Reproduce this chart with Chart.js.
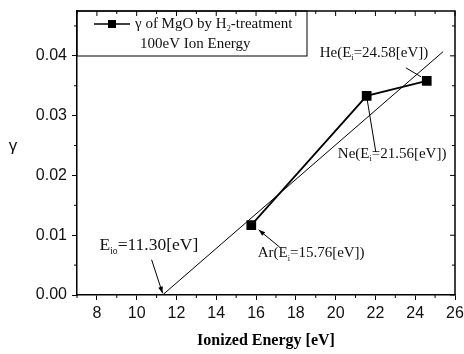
<!DOCTYPE html>
<html>
<head>
<meta charset="utf-8">
<script src="https://cdn.jsdelivr.net/npm/chart.js@4/dist/chart.umd.min.js"></script>
<style>
  html, body { margin: 0; padding: 0; background: #fff; }
</style>
</head>
<body>
<canvas id="chart" width="464" height="354"></canvas>
<script>
// measured gamma for each ion (Ar, Ne, He)
const ionEnergy = [15.76, 21.56, 24.58];
const gammaValues = [0.0117, 0.0333, 0.0358];
// straight fit, crosses zero at E_io = 11.30 eV
const fitEnergy = [11.30, 25.4];
const fitGamma = [0, 0.0407];
const xTicks = [8, 10, 12, 14, 16, 18, 20, 22, 24, 26];
const yTicks = [0, 0.01, 0.02, 0.03, 0.04];

const SERIF = '"Liberation Serif", "Times New Roman", serif';
const SANS = '"Liberation Sans", Arial, sans-serif';

// text pieces: [string, isSubscript]
const notes = [
  { parts: [['He(E', 0], ['i', 1], ['=24.58[eV])', 0]], x: 19.2, y: 0.0405, size: 15,
    from: [23.53, 0.0380], to: [24.29, 0.0365], head: false },
  { parts: [['Ne(E', 0], ['i', 1], ['=21.56[eV])', 0]], x: 20.11, y: 0.0236, size: 15,
    from: [22.02, 0.0239], to: [21.57, 0.0330], head: false },
  { parts: [['Ar(E', 0], ['i', 1], ['=15.76[eV])', 0]], x: 16.08, y: 0.0070, size: 15,
    from: [17.19, 0.0080], to: [16.13, 0.0109], head: true },
  { parts: [['E', 0], ['io', 1], ['=11.30[eV]', 0]], x: 8.13, y: 0.0083, size: 17.5,
    from: [10.75, 0.0059], to: [11.30, 0.0003], head: true }
];

function drawParts(ctx, parts, x, y, size) {
  let cx = x;
  ctx.textBaseline = 'middle';
  ctx.textAlign = 'left';
  parts.forEach(([t, sub]) => {
    ctx.font = (sub ? size * 0.55 : size) + 'px ' + SERIF;
    ctx.fillText(t, cx, sub ? y + size * 0.35 : y);
    cx += ctx.measureText(t).width;
  });
}

function arrow(ctx, x1, y1, x2, y2, head) {
  ctx.beginPath();
  ctx.moveTo(x1, y1);
  ctx.lineTo(x2, y2);
  ctx.stroke();
  if (!head) return;
  const a = Math.atan2(y2 - y1, x2 - x1);
  const L = 7, w = 0.35;
  ctx.beginPath();
  ctx.moveTo(x2, y2);
  ctx.lineTo(x2 - L * Math.cos(a - w), y2 - L * Math.sin(a - w));
  ctx.lineTo(x2 - L * Math.cos(a + w), y2 - L * Math.sin(a + w));
  ctx.closePath();
  ctx.fill();
}

const decor = {
  id: 'decor',
  afterDraw(chart) {
    const { ctx, chartArea: a, scales: { x, y } } = chart;
    ctx.save();
    ctx.strokeStyle = '#000';
    ctx.fillStyle = '#000';

    // frame top + right
    ctx.lineWidth = 1.5;
    ctx.beginPath();
    ctx.moveTo(a.left, a.top);
    ctx.lineTo(a.right, a.top);
    ctx.lineTo(a.right, a.bottom);
    ctx.stroke();

    // ticks: top/right inward, minor ones outward on left/bottom
    ctx.lineWidth = 1;
    ctx.beginPath();
    for (let v = 7; v <= 26; v++) {
      const px = x.getPixelForValue(v);
      const major = v % 2 === 0;
      ctx.moveTo(px, a.top);
      ctx.lineTo(px, a.top + (major ? 5 : 3));
      if (!major) {
        ctx.moveTo(px, a.bottom);
        ctx.lineTo(px, a.bottom + 3);
      }
    }
    for (let i = 0; i <= 9; i++) {
      const py = y.getPixelForValue(i * 0.005);
      const major = i % 2 === 0;
      ctx.moveTo(a.right, py);
      ctx.lineTo(a.right - (major ? 5 : 3), py);
      if (!major) {
        ctx.moveTo(a.left, py);
        ctx.lineTo(a.left - 3, py);
      }
    }
    ctx.stroke();

    // legend box
    ctx.lineWidth = 1;
    ctx.strokeRect(a.left, a.top, 230, 45);
    ctx.lineWidth = 1.5;
    ctx.beginPath();
    ctx.moveTo(a.left + 17, a.top + 13);
    ctx.lineTo(a.left + 53, a.top + 13);
    ctx.stroke();
    ctx.fillRect(a.left + 31, a.top + 9, 8, 8);
    ctx.fillStyle = '#111';
    drawParts(ctx, [['\u03B3 of MgO by H', 0], ['2', 1], ['-treatment', 0]], a.left + 58, a.top + 13, 15);
    drawParts(ctx, [['100eV Ion Energy', 0]], a.left + 63, a.top + 33, 15);

    // y axis label, upright
    ctx.font = '17px ' + SANS;
    ctx.textAlign = 'center';
    ctx.textBaseline = 'middle';
    ctx.fillText('\u03B3', 13, y.getPixelForValue(0.0248));

    // annotations
    ctx.lineWidth = 1;
    notes.forEach(n => {
      ctx.fillStyle = '#111';
      drawParts(ctx, n.parts, x.getPixelForValue(n.x), y.getPixelForValue(n.y), n.size);
      ctx.fillStyle = '#000';
      arrow(ctx, x.getPixelForValue(n.from[0]), y.getPixelForValue(n.from[1]),
        x.getPixelForValue(n.to[0]), y.getPixelForValue(n.to[1]), n.head);
    });
    ctx.restore();
  }
};

new Chart(document.getElementById('chart'), {
  type: 'scatter',
  data: {
    datasets: [
      {
        data: ionEnergy.map((e, i) => ({ x: e, y: gammaValues[i] })),
        showLine: true,
        borderColor: '#000',
        backgroundColor: '#000',
        borderWidth: 1.8,
        pointStyle: 'rect',
        pointRadius: 5.6,
        pointHoverRadius: 5.6
      },
      {
        data: fitEnergy.map((e, i) => ({ x: e, y: fitGamma[i] })),
        showLine: true,
        borderColor: '#000',
        borderWidth: 1,
        pointRadius: 0
      }
    ]
  },
  options: {
    responsive: false,
    animation: false,
    layout: { padding: { top: 11, right: 9, left: 0, bottom: 0 } },
    plugins: { legend: { display: false }, tooltip: { enabled: false } },
    scales: {
      x: {
        type: 'linear',
        min: 7,
        max: 26,
        afterBuildTicks: s => { s.ticks = xTicks.map(v => ({ value: v })); },
        afterFit: s => { s.height = 59; s.paddingLeft = 0; s.paddingRight = 0; },
        ticks: { color: '#111', font: { family: SANS, size: 16 }, padding: 4, maxRotation: 0 },
        grid: { drawOnChartArea: false, tickLength: 5, color: '#000' },
        border: { color: '#000', width: 1.5 },
        title: {
          display: true,
          text: 'Ionized Energy [eV]',
          color: '#000',
          font: { family: SERIF, size: 16, weight: 'bold' },
          padding: { top: 5 }
        }
      },
      y: {
        min: 0,
        max: 0.0475,
        afterBuildTicks: s => { s.ticks = yTicks.map(v => ({ value: v })); },
        afterFit: s => { s.width = 77; s.paddingTop = 0; s.paddingBottom = 0; },
        ticks: { color: '#111', font: { family: SANS, size: 16 }, padding: 5, callback: v => v.toFixed(2) },
        grid: { drawOnChartArea: false, tickLength: 5, color: '#000' },
        border: { color: '#000', width: 1.5 }
      }
    }
  },
  plugins: [decor]
});
</script>
</body>
</html>
